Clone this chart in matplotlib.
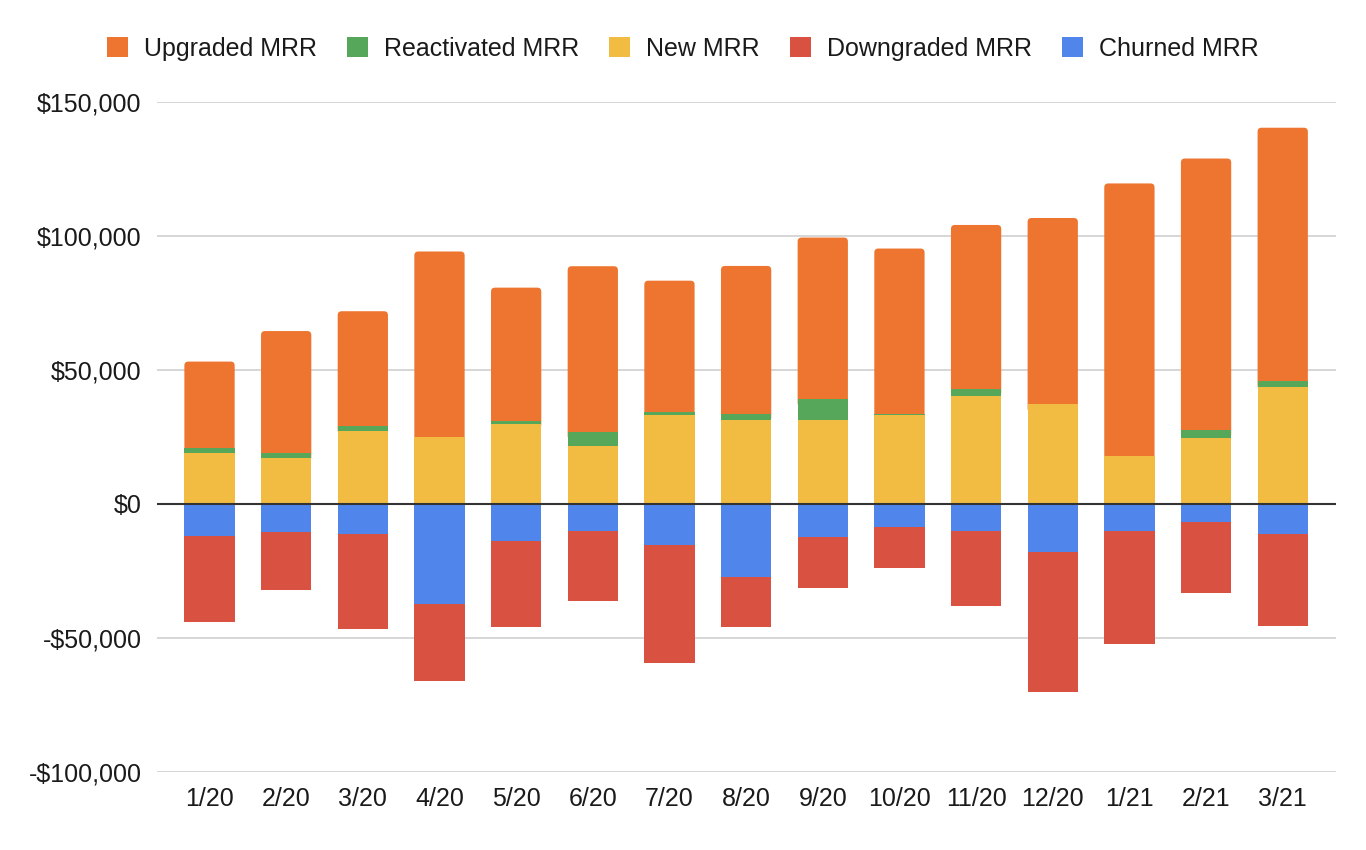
import matplotlib
matplotlib.use("Agg")
import matplotlib.pyplot as plt
from matplotlib.patches import FancyBboxPatch, Patch
from matplotlib.ticker import FuncFormatter, MultipleLocator

months = ["1/20", "2/20", "3/20", "4/20", "5/20", "6/20", "7/20", "8/20",
          "9/20", "10/20", "11/20", "12/20", "1/21", "2/21", "3/21"]
new_mrr = [19000, 17000, 27000, 25000, 29700, 21700, 33000, 31200,
           31200, 33000, 40400, 37100, 17700, 24400, 43700]
reactivated_mrr = [2000, 2100, 2000, 0, 1400, 5200, 1400, 2400,
                   7900, 500, 2600, 0, 0, 3100, 2000]
upgraded_mrr = [32100, 45400, 42900, 69200, 49600, 61800, 48900, 55200,
                60300, 61800, 61100, 69600, 101900, 101400, 94700]
churned_mrr = [-11900, -10600, -11300, -37500, -14000, -10000, -15200, -27400,
               -12500, -8500, -10100, -18100, -10100, -6700, -11300]
downgraded_mrr = [-32300, -21400, -35600, -28800, -32100, -26100, -44400, -18700,
                  -18900, -15400, -28000, -52300, -42200, -26700, -34300]

C_UP = "#ED7530"
C_REACT = "#57A75B"
C_NEW = "#F2BC42"
C_DOWN = "#D95140"
C_CHURN = "#5086EC"
TXT = "#1a1a1a"

plt.rcParams["font.family"] = ["Liberation Sans", "DejaVu Sans"]
FS = 18

fig = plt.figure(figsize=(13.66, 8.5), dpi=100)
ax = fig.add_axes([157 / 1366, (850 - 771.7) / 850, (1336 - 157) / 1366, (771.7 - 102.0) / 850])

x = list(range(len(months)))
w = 0.656

# negative side
ax.bar(x, churned_mrr, width=w, color=C_CHURN, zorder=3, linewidth=0)
ax.bar(x, downgraded_mrr, width=w, bottom=churned_mrr, color=C_DOWN, zorder=3, linewidth=0)

# positive side
ax.bar(x, new_mrr, width=w, color=C_NEW, zorder=4, linewidth=0)
base2 = [a + b for a, b in zip(new_mrr, reactivated_mrr)]
ax.bar(x, reactivated_mrr, width=w, bottom=new_mrr, color=C_REACT, zorder=4, linewidth=0)
up_bars = ax.bar(x, upgraded_mrr, width=w, bottom=base2, color=C_UP, zorder=3, linewidth=0)

# round the top corners of the top segment
ax.set_xlim(-0.685, 14.695)
ax.set_ylim(-100000, 150000)
px_x = (ax.get_xlim()[1] - ax.get_xlim()[0]) / (1336 - 157)
px_y = (ax.get_ylim()[1] - ax.get_ylim()[0]) / (771.7 - 102.0)
r = 4 * px_x
for rect in list(up_bars.patches):
    bx, by = rect.get_x(), rect.get_y()
    bw, bh = rect.get_width(), rect.get_height()
    rect.set_visible(False)
    fb = FancyBboxPatch((bx, by - 3000), bw, bh + 3000,
                        boxstyle=f"round,pad=0,rounding_size={r}",
                        mutation_aspect=px_y / px_x,
                        facecolor=C_UP, edgecolor="none", zorder=3)
    ax.add_patch(fb)

ax.yaxis.set_major_locator(MultipleLocator(50000))
ax.yaxis.set_major_formatter(FuncFormatter(
    lambda v, p: ("-$" if v < 0 else "$") + f"{abs(int(v)):,}"))
ax.grid(axis="y", color="#CCCCCC", linewidth=1.1, zorder=0)
ax.axhline(0, color="#333333", linewidth=1.5, zorder=5)

ax.set_xticks(x)
ax.set_xticklabels(months)
ax.tick_params(axis="both", length=0, labelsize=FS, colors=TXT)
ax.tick_params(axis="y", pad=11)
ax.tick_params(axis="x", pad=11)
for s in ax.spines.values():
    s.set_visible(False)

handles = [Patch(facecolor=C_UP, label="Upgraded MRR"),
           Patch(facecolor=C_REACT, label="Reactivated MRR"),
           Patch(facecolor=C_NEW, label="New MRR"),
           Patch(facecolor=C_DOWN, label="Downgraded MRR"),
           Patch(facecolor=C_CHURN, label="Churned MRR")]
leg = fig.legend(handles=handles, loc="center", bbox_to_anchor=(0.5, 1 - 49 / 850),
                 ncol=5, frameon=False, fontsize=FS, handlelength=0.84,
                 handleheight=0.84, handletextpad=0.64, columnspacing=1.2,
                 borderaxespad=0, borderpad=0)
for t in leg.get_texts():
    t.set_color(TXT)

fig.savefig("out.png", dpi=100, facecolor="white")
